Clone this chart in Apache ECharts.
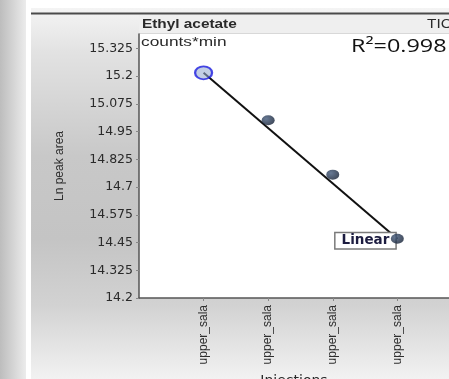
<!DOCTYPE html>
<html>
<head>
<meta charset="utf-8">
<script src="https://cdn.jsdelivr.net/npm/echarts@6/dist/echarts.min.js"></script>
<style>
  html, body { margin: 0; padding: 0; background: #ffffff; }
  #chart { width: 449px; height: 379px; }
</style>
</head>
<body>
<div id="chart"></div>
<script>
// Injection names (x axis) and natural-log peak areas (y axis)
const injections = ['upper_sala', 'upper_sala', 'upper_sala', 'upper_sala'];
const lnPeakArea = [15.215, 15.001, 14.756, 14.467];

// Axis range for the log peak area
const yMin = 14.2;
const yMax = 15.39;
const yStep = 0.125;

const compoundName = 'Ethyl acetate';
const signalName = 'TIC';
const unitText = 'counts*min';
const fitText = 'R\u00B2=0.998';
const fitName = 'Linear';

const points = lnPeakArea.map((v, i) => [i + 1, v]);
const trendEnds = [points[0], points[points.length - 1]];

const darkDot = {
  type: 'radial', x: 0.35, y: 0.35, r: 0.75,
  colorStops: [
    { offset: 0, color: '#41587a' },
    { offset: 1, color: '#0f1a2e' }
  ]
};

const chart = echarts.init(document.getElementById('chart'), null, { renderer: 'canvas' });

chart.setOption({
  animation: false,
  backgroundColor: '#ffffff',
  graphic: [
    // striped frame on the far left
    {
      type: 'rect', z: -20, shape: { x: 0, y: 0, width: 26, height: 379 },
      style: { fill: { type: 'linear', x: 0, y: 0, x2: 1, y2: 0,
        colorStops: [{ offset: 0, color: '#bdbdbd' }, { offset: 0.5, color: '#d4d4d4' }, { offset: 1, color: '#ececec' }] } }
    },
    // panel behind the plot
    {
      type: 'rect', z: -20, shape: { x: 31, y: 8, width: 418, height: 371 },
      style: { fill: { type: 'linear', x: 0, y: 0, x2: 0, y2: 1,
        colorStops: [
          { offset: 0, color: '#f4f4f4' },
          { offset: 0.12, color: '#e2e2e2' },
          { offset: 0.4, color: '#c8c8c8' },
          { offset: 0.62, color: '#c4c4c4' },
          { offset: 0.8, color: '#d2d2d2' },
          { offset: 1, color: '#f2f2f2' }
        ] } }
    },
    // header band and its rules
    {
      type: 'rect', z: -15, shape: { x: 139, y: 15, width: 310, height: 19 },
      style: { fill: '#efefef' }
    },
    {
      type: 'line', z: -10, shape: { x1: 31, y1: 13.5, x2: 449, y2: 13.5 },
      style: { stroke: '#4a4a4a', lineWidth: 2 }
    },
    {
      type: 'line', z: -10, shape: { x1: 139, y1: 33.5, x2: 449, y2: 33.5 },
      style: { stroke: '#d8d8d8', lineWidth: 1 }
    },
    // header and in-plot texts
    {
      type: 'text', z: 100, x: 142, y: 25, scaleX: 1.28,
      style: { text: compoundName, fontFamily: 'Liberation Sans', fontSize: 12, fontWeight: 'bold',
        fill: '#2a2a2a', verticalAlign: 'middle' }
    },
    {
      type: 'text', z: 100, x: 427, y: 25, scaleX: 1.28,
      style: { text: signalName, fontFamily: 'Liberation Sans', fontSize: 12,
        fill: '#2a2a2a', verticalAlign: 'middle' }
    },
    {
      type: 'text', z: 100, x: 141, y: 42, scaleX: 1.33,
      style: { text: unitText, fontFamily: 'Liberation Sans', fontSize: 13,
        fill: '#2a2a2a', verticalAlign: 'middle' }
    },
    {
      type: 'text', z: 100, x: 351, y: 47, scaleX: 1.3,
      style: { text: fitText, fontFamily: 'Open Sans', fontSize: 18,
        fill: '#111111', verticalAlign: 'middle' }
    }
  ],
  grid: {
    left: 139, top: 34, right: 0, bottom: 81,
    containLabel: false,
    outerBoundsMode: 'none',
    show: true, backgroundColor: '#ffffff', borderWidth: 0
  },
  xAxis: {
    type: 'value',
    min: 0, max: 4.8, interval: 1,
    name: 'Injections',
    nameLocation: 'middle',
    nameGap: 76,
    nameTextStyle: { fontFamily: 'DejaVu Sans', fontSize: 14, color: '#2a2a2a' },
    axisLine: { show: true, lineStyle: { color: '#555555', width: 1.5 } },
    axisTick: { show: true, length: 3, lineStyle: { color: '#888888' } },
    splitLine: { show: false },
    axisLabel: {
      rotate: 90, margin: 7, showMaxLabel: false, showMinLabel: false,
      fontFamily: 'Liberation Sans', fontSize: 12, color: '#2e2e2e',
      formatter: v => injections[Math.round(v) - 1] || ''
    }
  },
  yAxis: {
    type: 'value',
    min: yMin, max: yMax, interval: yStep,
    name: 'Ln peak area',
    nameLocation: 'middle',
    nameGap: 73,
    nameTextStyle: { fontFamily: 'Liberation Sans', fontSize: 12, color: '#2e2e2e' },
    axisLine: { show: true, lineStyle: { color: '#555555', width: 1.5 } },
    axisTick: { show: true, length: 3, lineStyle: { color: '#888888' } },
    splitLine: { show: false },
    axisLabel: {
      margin: 6, showMaxLabel: false,
      fontFamily: 'DejaVu Sans', fontSize: 12.5, color: '#2a2a2a',
      formatter: v => String(Math.round(v * 1000) / 1000)
    }
  },
  series: [
    {
      name: fitName,
      type: 'line',
      z: 2,
      data: trendEnds.map((p, i) => i === trendEnds.length - 1 ? {
        value: p,
        label: {
          show: true, position: 'left', distance: 2, offset: [0, 2],
          formatter: fitName,
          fontFamily: 'DejaVu Sans', fontSize: 13.5, fontWeight: 'bold', color: '#1c1c40',
          backgroundColor: '#ffffff', borderColor: '#7a7a7a', borderWidth: 1.5,
          padding: [1, 6, 0, 6]
        }
      } : { value: p }),
      symbol: 'circle',
      symbolSize: 0,
      showSymbol: true,
      lineStyle: { color: '#111111', width: 2 },
      itemStyle: { color: '#111111' }
    },
    {
      name: 'Ln peak area',
      type: 'scatter',
      z: 3,
      data: points.map((p, i) => i === 0 ? {
        value: p,
        symbolSize: [17, 13],
        itemStyle: { color: 'rgba(150,170,208,0.72)', borderColor: '#1c1ce0', borderWidth: 2 }
      } : { value: p }),
      symbol: 'circle',
      symbolSize: [13, 10],
      itemStyle: { color: darkDot }
    }
  ]
});
</script>
</body>
</html>
